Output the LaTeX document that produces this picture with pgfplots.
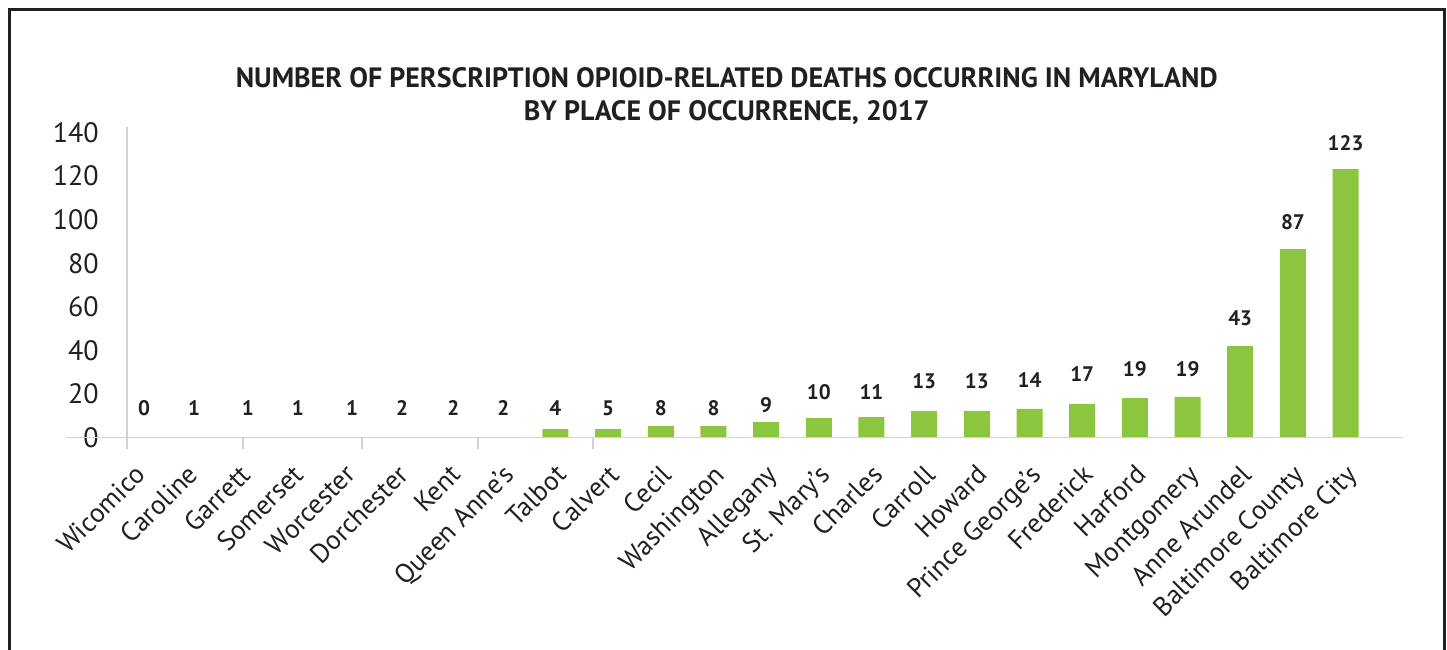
\documentclass[border=0pt]{standalone}
\usepackage{fontspec}
\setmainfont{PT Sans}
\usepackage{pgfplots}
\pgfplotsset{compat=1.18}
\usepackage{pgfplotstable}
\definecolor{barg}{HTML}{8CC63F}
\definecolor{txt}{HTML}{231F20}
\definecolor{axg}{HTML}{D2D2D2}

\pgfplotstableread{
x y
8 3.9
9 3.9
10 5.3
11 5.3
12 7.1
13 8.9
14 9.4
15 12.2
16 12.2
17 13.1
18 15.4
19 18.1
20 18.6
21 42.0
22 86.5
23 123.2
}\bars

\pgfplotstableread{
x y lab
0.19 13.5 0
1.14 13.5 1
2.16 13.5 1
3.11 13.5 1
4.14 13.5 1
5.09 13.5 2
6.06 13.5 2
7.01 13.5 2
8 13.5 4
9 13.5 5
10 13.5 8
11 13.5 8
12 14.9 9
13 20.9 10
14 20.9 11
15 25.9 13
16 25.9 13
17 26.4 14
18 29.1 17
19 31.4 19
20 31.4 19
21 54.9 43
22 98.9 87
23 135.2 123
}\labels

\begin{document}
\begin{tikzpicture}
\path[use as bounding box] (-63.5pt,-105.75pt) rectangle (660pt,218.75pt);
\begin{axis}[
  scale only axis, width=638pt, height=152.5pt,
  xmin=-0.133, xmax=24.09, ymin=0, ymax=140,
  axis line style={draw=none},
  clip=false,
  xtick={0,...,23},
  xticklabels={Wicomico,Caroline,Garrett,Somerset,Worcester,Dorchester,Kent,Queen Anne’s,Talbot,Calvert,Cecil,Washington,Allegany,St. Mary’s,Charles,Carroll,Howard,Prince George’s,Frederick,Harford,Montgomery,Anne Arundel,Baltimore County,Baltimore City},
  major tick length=0pt,
  ytick={0,20,...,140},
  tick label style={font=\fontsize{14}{16}\selectfont, text=txt},
  /pgf/number format/assume math mode=true,
  xticklabel style={font=\fontsize{13.5}{16}\selectfont, xshift=-0.5pt, yshift=-12.5pt, rotate=45, anchor=north east, inner sep=0pt},
  yticklabel style={anchor=east, inner sep=0pt, xshift=-14pt},
]
\addplot[ybar, bar width=0.494, fill=barg, draw=none] table[x=x,y=y]{\bars};
\addplot[draw=none, mark=none, nodes near coords, point meta=explicit symbolic,
  nodes near coords style={anchor=center, inner sep=0pt, font=\fontsize{10.5}{12}\selectfont\bfseries, text=txt}]
  table[x=x,y=y,meta=lab]{\labels};
\draw[axg, line width=0.75pt] (axis cs:-1.29,0) -- (axis cs:24.09,0);
\draw[axg, line width=0.75pt] (axis cs:-0.133,-5.3) -- (axis cs:-0.133,142.5);
\draw[axg, line width=0.75pt] (axis cs:2.07,0) -- (axis cs:2.07,-5.3);
\draw[axg, line width=0.75pt] (axis cs:4.33,0) -- (axis cs:4.33,-5.3);
\draw[axg, line width=0.75pt] (axis cs:6.53,0) -- (axis cs:6.53,-5.3);
\draw[axg, line width=0.75pt] (axis cs:8.71,0) -- (axis cs:8.71,-5.3);
\node[align=center, font=\fontsize{14}{16.5}\selectfont\bfseries, text=txt] at (rel axis cs:0.470,1.12)
  {NUMBER OF PERSCRIPTION OPIOID-RELATED DEATHS OCCURRING IN MARYLAND\\BY PLACE OF OCCURRENCE, 2017};
\end{axis}
\draw[txt, line width=1.5pt] (-58.75pt,-130pt) -- (-58.75pt,214pt) -- (658.75pt,214pt) -- (658.75pt,-130pt);
\end{tikzpicture}
\end{document}
